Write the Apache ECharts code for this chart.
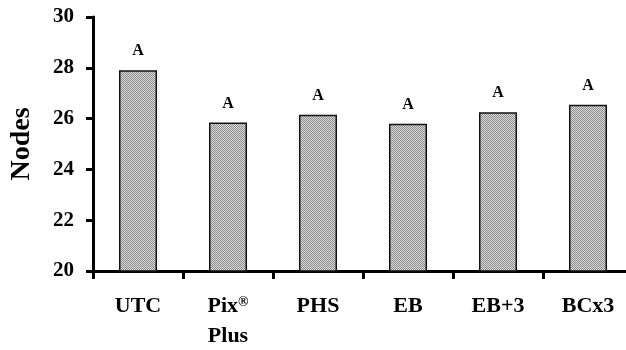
<!DOCTYPE html>
<html><head><meta charset="utf-8">
<script src="https://cdn.jsdelivr.net/npm/echarts@6/dist/echarts.min.js"></script>
<style>html,body{margin:0;padding:0;background:#fff}#c{width:626px;height:350px}</style>
</head><body><div id="c"></div>
<script>
const categories = ['UTC', 'Pix®\nPlus', 'PHS', 'EB', 'EB+3', 'BCx3'];
const nodes = [27.9, 25.85, 26.15, 25.8, 26.25, 26.55];
const letters = ['A', 'A', 'A', 'A', 'A', 'A'];
const yTicks = [20, 22, 24, 26, 28, 30];

const FONT = '"Liberation Serif", "Times New Roman", serif';
const pc = document.createElement('canvas');
pc.width = 2; pc.height = 2;
const pctx = pc.getContext('2d');
pctx.fillStyle = '#dcdcdc'; pctx.fillRect(0, 0, 2, 2);
pctx.fillStyle = '#8a8a8a'; pctx.fillRect(0, 0, 1, 1); pctx.fillRect(1, 1, 1, 1);

const chart = echarts.init(document.getElementById('c'), null, {renderer: 'canvas'});
chart.setOption({
  animation: false,
  backgroundColor: '#fff',
  grid: {left: 93, top: 17, bottom: 79, right: -7, containLabel: false, outerBoundsMode: 'none'},
  xAxis: {
    type: 'category',
    data: categories,
    boundaryGap: true,
    axisLine: {lineStyle: {color: '#000', width: 3}},
    axisTick: {show: true, interval: 0, length: 8, lineStyle: {color: '#000', width: 3}, alignWithLabel: false},
    axisLabel: {
      interval: 0,
      margin: 20, color: '#000', fontFamily: FONT, fontWeight: 'bold', fontSize: 22, lineHeight: 30,
      formatter: function (v) {
        if (v.indexOf('®') >= 0) {
          const parts = v.split('®');
          return parts[0] + '{sup|®}' + parts[1];
        }
        return v;
      },
      rich: {sup: {fontSize: 14, fontFamily: FONT, fontWeight: 'bold', color: '#000', padding: [0, 0, 7, 0], lineHeight: 30}}
    }
  },
  yAxis: {
    type: 'value',
    min: yTicks[0], max: yTicks[yTicks.length - 1], interval: 2,
    name: 'Nodes', nameLocation: 'middle', nameGap: 57, nameRotate: 90,
    nameTextStyle: {fontFamily: FONT, fontWeight: 'bold', fontSize: 28, color: '#000'},
    splitLine: {show: false},
    axisLine: {show: true, lineStyle: {color: '#000', width: 3}},
    axisTick: {show: true, length: 7, lineStyle: {color: '#000', width: 3}},
    axisLabel: {margin: 19, color: '#000', fontFamily: FONT, fontWeight: 'bold', fontSize: 21}
  },
  series: [{
    type: 'bar',
    data: nodes,
    barWidth: 38,
    itemStyle: {color: {image: pc, repeat: 'repeat'}, borderColor: '#111', borderWidth: 1.5},
    label: {
      show: true, position: 'top', distance: 11,
      formatter: function (p) { return letters[p.dataIndex]; },
      fontFamily: FONT, fontWeight: 'bold', fontSize: 16, color: '#000'
    }
  }]
});
</script></body></html>
